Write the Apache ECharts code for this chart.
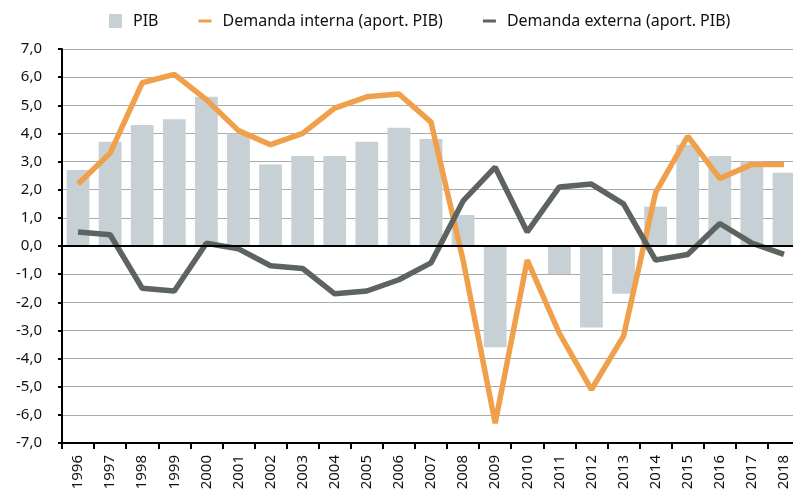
<!DOCTYPE html>
<html>
<head>
<meta charset="utf-8">
<script src="https://cdn.jsdelivr.net/npm/echarts@6/dist/echarts.min.js"></script>
<style>
  html, body { margin: 0; padding: 0; background: #fff; overflow: hidden; }
  /* el área del gráfico sigue un poco más allá del borde derecho */
  #chart { width: 800px; height: 495px; }
</style>
</head>
<body>
<div id="chart"></div>
<script>
// años
var years = ['1996', '1997', '1998', '1999', '2000', '2001', '2002', '2003', '2004', '2005', '2006', '2007',
  '2008', '2009', '2010', '2011', '2012', '2013', '2014', '2015', '2016', '2017', '2018']
var pib = [2.7, 3.7, 4.3, 4.5, 5.3, 4.0, 2.9, 3.2, 3.2, 3.7, 4.2, 3.8,
  1.1, -3.6, 0.0, -1.0, -2.9, -1.7, 1.4, 3.6, 3.2, 3.0, 2.6]
var demandaInterna = [2.2, 3.3, 5.8, 6.1, 5.2, 4.1, 3.6, 4.0, 4.9, 5.3, 5.4, 4.4,
  -0.5, -6.3, -0.5, -3.1, -5.1, -3.2, 1.9, 3.9, 2.4, 2.9, 2.9]
var demandaExterna = [0.5, 0.4, -1.5, -1.6, 0.1, -0.1, -0.7, -0.8, -1.7, -1.6, -1.2, -0.6,
  1.6, 2.8, 0.5, 2.1, 2.2, 1.5, -0.5, -0.3, 0.8, 0.1, -0.3]

var font = '"Noto Sans", sans-serif'

var chart = echarts.init(document.getElementById('chart'))
chart.setOption({
  animation: false,
  textStyle: { fontFamily: font },
  legend: {
    top: 8,
    left: 104,
    itemGap: 40,
    itemWidth: 13,
    itemHeight: 14,
    textStyle: { fontSize: 16, color: '#111', fontFamily: font, padding: [0, 0, 0, 6] },
    data: [
      { name: 'PIB', icon: 'rect' },
      { name: 'Demanda interna (aport. PIB)', icon: 'path://M0,0h13v3H0z' },
      { name: 'Demanda externa (aport. PIB)', icon: 'path://M0,0h13v3H0z' }
    ]
  },
  grid: {
    left: 62,
    right: 0,
    top: 49,
    bottom: 52,
    containLabel: false
  },
  xAxis: {
    type: 'category',
    data: years,
    boundaryGap: true,
    axisLine: { onZero: false, lineStyle: { color: '#000', width: 2 } },
    axisTick: { show: true, length: 6, lineStyle: { color: '#000', width: 2 } },
    axisLabel: {
      rotate: 90,
      fontSize: 15,
      color: '#111',
      margin: 12
    }
  },
  yAxis: {
    type: 'value',
    min: -7,
    max: 7,
    interval: 1,
    axisLine: { show: true, lineStyle: { color: '#000', width: 2 } },
    axisTick: { show: true, length: 4, lineStyle: { color: '#000', width: 2 } },
    axisLabel: {
      fontSize: 15,
      color: '#111',
      margin: 20,
      formatter: function (v) { return v.toFixed(1).replace('.', ',') }
    },
    splitLine: { lineStyle: { color: '#aaa', width: 1 } }
  },
  series: [{
    name: 'PIB',
    type: 'bar',
    data: pib,
    barWidth: '71%',
    itemStyle: { color: '#c7d0d5' },
    markLine: {
      silent: true,
      symbol: 'none',
      label: { show: false },
      lineStyle: { color: '#000', width: 2, type: 'solid' },
      data: [{ yAxis: 0 }]
    }
  },
  {
    name: 'Demanda interna (aport. PIB)',
    type: 'line',
    data: demandaInterna,
    symbol: 'none',
    lineStyle: { color: '#f0a04b', width: 5.5 },
    itemStyle: { color: '#f0a04b' },
    z: 3
  },
  {
    name: 'Demanda externa (aport. PIB)',
    type: 'line',
    data: demandaExterna,
    symbol: 'none',
    lineStyle: { color: '#5d6361', width: 5.5 },
    itemStyle: { color: '#5d6361' },
    z: 4
  }]
})
</script>
</body>
</html>
